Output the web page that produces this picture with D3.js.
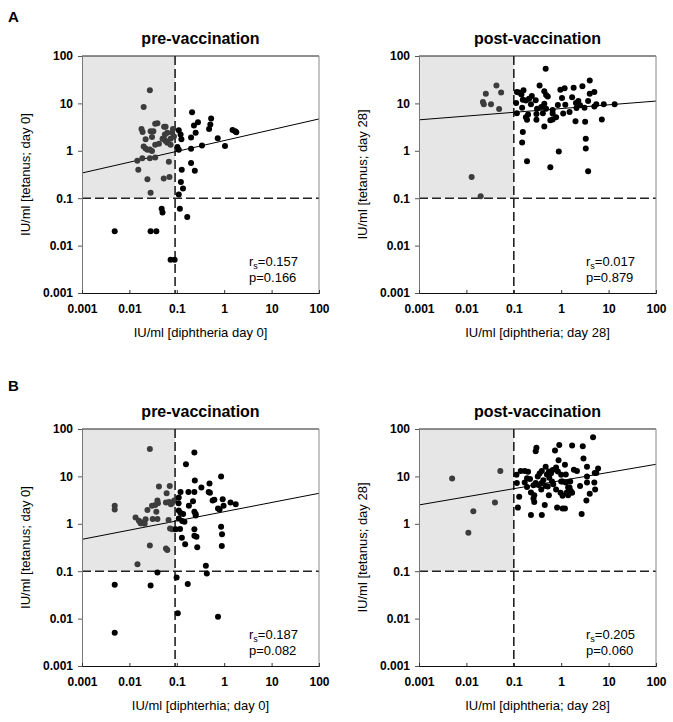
<!DOCTYPE html>
<html><head><meta charset="utf-8">
<script src="https://cdn.jsdelivr.net/npm/d3@7"></script>
<style>
body{margin:0;background:#fff}
text{font-family:"Liberation Sans",Arial,sans-serif;fill:#000}
</style>
</head><body>
<svg id="chart" width="673" height="722"></svg>
<script>
// ---------- data ----------
const tickValues = [0.001, 0.01, 0.1, 1, 10, 100];
const tickLabels = ["0.001", "0.01", "0.1", "1", "10", "100"];
const panelLetters = ["A", "B"];
const panelTitles = ["pre-vaccination", "post-vaccination", "pre-vaccination", "post-vaccination"];
const xTitles = ["IU/ml [diphtheria day 0]", "IU/ml [diphtheria; day 28]", "IU/ml [diphterhia; day 0]", "IU/ml [diphtheria; day 28]"];
const yTitles = ["IU/ml [tetanus; day 0]", "IU/ml [tetanus; day 28]", "IU/ml [tetanus; day 0]", "IU/ml [tetanus; day 28]"];
const rsValues = ["0.157", "0.017", "0.187", "0.205"];
const pValues = ["0.166", "0.879", "0.082", "0.060"];
const xCutoffs = [0.092, 0.1, 0.092, 0.1];
const yCutoff = 0.1;
// regression line end points [x, y]
const fitA_pre = [[0.001, 0.34], [100, 4.7]];
const fitA_post = [[0.001, 4.5], [100, 11.2]];
const fitB_pre = [[0.001, 0.47], [100, 4.4]];
const fitB_post = [[0.001, 2.5], [100, 18]];

const pointsA_pre = [
[0.027,19],[0.020,8.4],[0.018,2.9],[0.019,2.5],[0.022,1.76],[0.028,2.57],[0.030,1.95],[0.035,3.7],[0.039,3.8],[0.032,2.6],
[0.020,1.23],[0.022,1.12],[0.024,1.05],[0.027,1.07],[0.030,0.99],[0.035,1.34],[0.0147,0.62],[0.0187,0.70],[0.027,0.70],[0.035,0.72],
[0.0154,0.40],[0.024,0.25],[0.028,0.13],[0.054,3.2],[0.058,3.2],[0.063,2.4],[0.054,1.75],[0.058,1.6],[0.063,1.47],[0.074,1.34],
[0.083,2.9],[0.068,0.59],[0.053,0.26],[0.070,0.28],[0.050,1.8],[0.042,1.4],[0.056,2.2],[0.074,1.8],[0.080,2.4],[0.087,2.0],
[0.0049,0.02],[0.028,0.02],[0.037,0.02],[0.048,0.06],[0.050,0.05],[0.074,0.005],[0.090,0.005],[0.116,0.06],[0.166,0.04],[0.11,0.12],
[0.135,0.16],[0.122,0.22],[0.127,0.40],[0.24,0.38],[0.20,0.55],[0.103,1.2],[0.11,1.05],[0.11,2.7],[0.12,2.2],[0.125,1.76],
[0.20,1.1],[0.21,6.5],[0.23,3.4],[0.25,2.4],[0.28,4.0],[0.20,1.9],[0.34,1.3],[0.48,2.9],[0.53,4.8],[0.51,3.6],
[0.73,1.85],[1.04,1.27],[1.5,2.75],[1.7,2.6],[1.8,2.45]
];
const pointsA_post = [
[0.0129,0.28],[0.020,0.11],[0.0223,10.7],[0.0233,9.6],[0.0257,16],[0.033,9.6],[0.043,24],[0.054,17],[0.049,7.6],
[0.47,54],[0.116,17.4],[0.128,17],[0.16,19],[0.145,15.5],[0.24,14.4],[0.35,24],[0.44,18],[0.48,15],[0.52,14],
[0.155,12],[0.18,11.5],[0.21,12.5],[0.29,11.6],[0.38,8.4],[0.44,9.8],[0.48,7.7],[0.116,6.2],[0.15,8.1],[0.18,5.1],
[0.19,4.5],[0.20,5.8],[0.30,6.0],[0.30,4.5],[0.41,6.2],[0.44,3.27],[0.59,4.4],[0.66,4.6],[0.78,5.1],[0.66,7.3],
[0.85,9.2],[0.96,19.4],[1.18,21],[1.04,13],[1.22,9.4],[1.5,6.6],[1.7,13.5],[1.83,21.5],[2.05,10.2],[2.1,8],
[2.3,11.2],[2.8,23],[3.1,8.1],[4.0,30.6],[4.0,16],[3.7,11.2],[5.0,17.5],[5.0,8.6],[5.5,9.6],[7.9,9.6],
[7.2,4.6],[13.4,9.6],[2.0,4.2],[3.2,4.1],[3.3,1.8],[3.3,1.12],[3.7,0.37],[0.89,0.97],[0.59,0.45],[0.19,0.6],
[0.15,1.5],[0.155,2.5],[0.66,6.1],[1.1,6.1],[0.31,7.7],[0.23,9.6],[0.112,10.2],[2.5,9.1]
];
const pointsB_pre = [
[0.027,38],[0.0049,2.4],[0.0049,2.0],[0.0135,1.35],[0.0159,1.16],[0.0172,1.03],[0.019,1.07],[0.022,1.25],[0.018,1.03],[0.021,1.0],
[0.024,1.95],[0.030,2.4],[0.035,2.5],[0.039,3.1],[0.040,2.7],[0.042,6.1],[0.037,1.8],[0.031,1.26],[0.039,1.26],[0.027,0.35],
[0.0148,0.14],[0.039,0.094],[0.059,0.30],[0.063,0.28],[0.061,4.4],[0.071,6.3],[0.059,2.8],[0.069,2.9],[0.079,2.7],[0.088,3.1],
[0.067,1.2],[0.072,0.8],[0.080,0.77],[0.075,2.6],
[0.0049,0.052],[0.0049,0.005],[0.028,0.05],[0.099,0.074],[0.105,0.013],[0.17,0.054],[0.41,0.13],[0.43,0.089],[0.74,0.011],[0.235,32],
[0.156,18],[0.24,8.2],[0.33,5.8],[0.49,7.1],[0.86,10],[0.11,3.6],[0.12,4.7],[0.176,4.7],[0.235,4.7],[0.47,4.7],
[0.5,4.5],[0.18,2.4],[0.22,3.0],[0.109,2.7],[0.11,1.9],[0.12,1.7],[0.136,1.6],[0.235,1.8],[0.25,1.6],[0.25,1.5],
[0.11,1.3],[0.13,1.15],[0.145,1.1],[0.095,0.77],[0.128,0.51],[0.15,0.37],[0.235,0.77],[0.235,0.56],[0.26,0.53],[0.27,0.32],
[0.57,3.1],[0.62,3.2],[0.74,2.1],[0.8,2.0],[0.86,0.87],[0.9,0.6],[0.89,0.34],[0.93,3.3],[0.97,2.4],[1.36,2.8],
[1.75,2.6],[0.117,0.78]
];
const pointsB_post = [
[0.0050,9.0],[0.011,0.65],[0.014,1.83],[0.040,2.8],[0.052,13],
[4.7,67],[0.30,40],[0.29,34],[0.91,46],[0.74,35],[1.7,45],[2.85,43],[2.95,24],[0.88,22],[1.2,17.6],
[3.5,16],[6.0,14.6],[5.1,11.8],[0.114,10.8],[0.14,13],[0.17,13],[0.2,12.5],[0.19,9.1],[0.22,8.8],[0.26,6.5],
[0.29,7.3],[0.32,10],[0.35,11.5],[0.39,13],[0.47,16],[0.55,12.7],[0.61,11.7],[0.66,13.7],[0.78,15.5],[0.85,12.7],
[0.5,11],[0.56,9.4],[0.42,8.3],[0.47,6.3],[0.38,7.2],[0.33,6.6],[0.64,7.8],[0.68,6.8],[0.78,5.3],[0.55,4.0],
[0.45,2.5],[0.27,2.9],[0.26,3.4],[0.27,4.0],[0.23,4.6],[0.13,3.7],[0.122,2.2],[0.23,1.53],[0.39,1.53],[0.116,7.3],
[0.19,6.0],[0.17,7.4],[0.82,2.2],[1.07,2.1],[1.2,2.1],[2.7,1.6],[0.97,4.5],[1.07,3.9],[1.3,4.5],[1.4,4.0],
[1.6,4.9],[1.7,4.5],[1.4,5.8],[1.5,5.8],[1.25,7.4],[1.07,7.8],[1.55,7.8],[2.5,6.3],[3.5,7.4],[5.0,7.4],
[4.0,4.3],[3.4,3.1],[5.2,5.3],[3.5,9.9],[5.5,11.8],[1.85,13.8],[2.15,13],[1.0,10.8],[0.38,5.3],[0.52,6.1],
[1.0,7.8],[1.25,11]
];

// ---------- drawing ----------
const svg = d3.select("#chart");
const size = 237;
const panels = [
  {left: 82, top: 56, pts: pointsA_pre, fit: fitA_pre},
  {left: 419, top: 56, pts: pointsA_post, fit: fitA_post},
  {left: 82, top: 429, pts: pointsB_pre, fit: fitB_pre},
  {left: 419, top: 429, pts: pointsB_post, fit: fitB_post}
];

svg.append("text").attr("x", 8).attr("y", 22).attr("font-size", 15).attr("font-weight", "bold").text(panelLetters[0]);
svg.append("text").attr("x", 8).attr("y", 391).attr("font-size", 15).attr("font-weight", "bold").text(panelLetters[1]);

panels.forEach((p, i) => {
  const x = d3.scaleLog().domain([0.001, 100]).range([p.left, p.left + size]);
  const y = d3.scaleLog().domain([0.001, 100]).range([p.top + size, p.top]);
  const g = svg.append("g");
  const xc = xCutoffs[i];

  // shaded region
  g.append("rect")
    .attr("x", x(0.001)).attr("y", y(100))
    .attr("width", x(xc) - x(0.001)).attr("height", y(yCutoff) - y(100))
    .attr("fill", "#e6e6e6");

  // dashed cutoffs
  g.append("line").attr("x1", x(xc)).attr("x2", x(xc)).attr("y1", y(100)).attr("y2", y(0.001))
    .attr("stroke", "#222").attr("stroke-width", 1.6).attr("stroke-dasharray", "9,4");
  g.append("line").attr("x1", x(0.001)).attr("x2", x(100)).attr("y1", y(yCutoff)).attr("y2", y(yCutoff))
    .attr("stroke", "#222").attr("stroke-width", 1.6).attr("stroke-dasharray", "9,4");

  // regression line
  g.append("line")
    .attr("x1", x(p.fit[0][0])).attr("y1", y(p.fit[0][1]))
    .attr("x2", x(p.fit[1][0])).attr("y2", y(p.fit[1][1]))
    .attr("stroke", "#000").attr("stroke-width", 1);

  // points
  g.selectAll("circle.pt").data(p.pts).join("circle")
    .attr("class", "pt")
    .attr("cx", d => x(d[0])).attr("cy", d => y(d[1])).attr("r", 3)
    .attr("fill", d => (d[0] < xc && d[1] >= yCutoff) ? "#3c3c3c" : "#000");

  // frame
  g.append("line").attr("x1", x(0.001)).attr("x2", x(100)).attr("y1", y(100)).attr("y2", y(100)).attr("stroke", "#222");
  g.append("line").attr("x1", x(100)).attr("x2", x(100)).attr("y1", y(100)).attr("y2", y(0.001)).attr("stroke", "#888");

  // axes
  const ya = d3.axisLeft(y).tickValues(tickValues).tickFormat((d, k) => tickLabels[k]).tickSize(4).tickPadding(5);
  const yg = g.append("g").attr("transform", `translate(${p.left},0)`).call(ya);
  yg.select(".domain").attr("stroke", "#777");
  yg.selectAll(".tick line").attr("stroke", "#555");
  yg.selectAll("text").attr("font-size", 12).attr("font-weight", "bold").attr("font-family", "Liberation Sans, Arial, sans-serif").attr("fill", "#111");

  const xa = d3.axisBottom(x).tickValues(tickValues).tickFormat((d, k) => tickLabels[k]).tickSize(-3).tickPadding(11);
  const xg = g.append("g").attr("transform", `translate(0,${p.top + size})`).call(xa);
  xg.select(".domain").attr("stroke", "#111");
  xg.selectAll(".tick line").attr("stroke", "#333");
  xg.selectAll("text").attr("font-size", 12).attr("font-weight", "bold").attr("font-family", "Liberation Sans, Arial, sans-serif").attr("fill", "#111");

  // titles
  g.append("text").attr("x", p.left + size / 2).attr("y", p.top - 12)
    .attr("text-anchor", "middle").attr("font-size", 16).attr("font-weight", "bold").text(panelTitles[i]);
  g.append("text").attr("x", p.left + size / 2).attr("y", p.top + size + 44)
    .attr("text-anchor", "middle").attr("font-size", 13).text(xTitles[i]);
  g.append("text").attr("transform", `translate(${p.left - 52},${p.top + size / 2}) rotate(-90)`)
    .attr("text-anchor", "middle").attr("font-size", 13).text(yTitles[i]);

  // stats
  const sx = p.left + size - 70;
  const t1 = g.append("text").attr("x", sx).attr("y", p.top + size - 27).attr("font-size", 13);
  t1.append("tspan").text("r");
  t1.append("tspan").attr("font-size", 9).attr("dy", 3).text("s");
  t1.append("tspan").attr("dy", -3).text("=" + rsValues[i]);
  g.append("text").attr("x", sx).attr("y", p.top + size - 11).attr("font-size", 13).text("p=" + pValues[i]);
});
</script>
</body></html>
